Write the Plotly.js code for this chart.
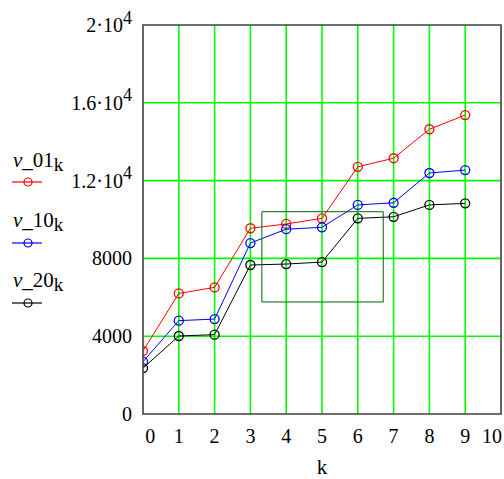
<!DOCTYPE html>
<html><head><meta charset="utf-8">
<script src="https://cdn.plot.ly/plotly-3.0.1.min.js"></script>
<style>body{margin:0;background:#fff}#c{width:504px;height:479px}</style>
</head><body><div id="c"></div>
<script>
const k = [0,1,2,3,4,5,6,7,8,9];
const v01 = [3240,6200,6510,9550,9770,10060,12710,13150,14640,15370];
const v10 = [2690,4800,4880,8790,9500,9600,10750,10860,12390,12540];
const v20 = [2360,4010,4080,7660,7710,7810,10060,10140,10750,10830];
const yTickVals = [0,4000,8000,12000,16000,20000];
const sup4 = '<sup><span style="font-size:18px">4</span></sup>';
const yTickText = ['0','4000','8000','1.2·10'+sup4,'1.6·10'+sup4,'2·10'+sup4];
const xTickVals = [0.2,1,2,3,4,5,6,7,8,9,9.75];
const xTickText = ['0','1','2','3','4','5','6','7','8','9','10'];
const xGrid = [1,2,3,4,5,6,7,8,9];
const names = ['ν_01','ν_10','ν_20'];
const colors = ['#ff0000','#0000ff','#000000'];
const series = [v01,v10,v20];
const font = 'Liberation Serif, Times New Roman, serif';

const traces = series.map((s,i)=>({
  x:k, y:s, type:'scatter', mode:'lines+markers', showlegend:false,
  line:{color:colors[i], width:1},
  marker:{symbol:'circle-open', size:9, color:colors[i], line:{width:1.3, color:colors[i]}}
}));

const shapes = [];
xGrid.forEach(g=>shapes.push({type:'line', xref:'x', yref:'paper', x0:g, x1:g, y0:0, y1:1, line:{color:'#00ff00', width:1.6}, layer:'below'}));
[4000,8000,12000,16000].forEach(g=>shapes.push({type:'line', xref:'paper', yref:'y', x0:0, x1:1, y0:g, y1:g, line:{color:'#00ff00', width:1.6}, layer:'below'}));
shapes.push({type:'rect', xref:'x', yref:'y', x0:3.32, x1:6.71, y0:5760, y1:10400, line:{color:'#006400', width:1}});
shapes.push({type:'rect', xref:'paper', yref:'paper', x0:0, x1:1, y0:0, y1:1, line:{color:'#404040', width:1.6}});

const legY = [182,243,303];
const legTextY = [161,221,281];
const annotations = [];
legY.forEach((ly,i)=>{
  const py = 1 - (ly-25)/389;
  shapes.push({type:'line', xref:'paper', yref:'paper', x0:(12-143)/358, x1:(42-143)/358, y0:py, y1:py, line:{color:colors[i], width:1.2}});
  shapes.push({type:'circle', xref:'paper', yref:'paper', x0:(24-143)/358, x1:(32-143)/358, y0:py-4/389, y1:py+4/389, line:{color:colors[i], width:1.2}});
  annotations.push({xref:'paper', yref:'paper', x:(11-143)/358, y:1-(legTextY[i]-25)/389, xanchor:'left', yanchor:'middle', showarrow:false,
    text:'<i>'+names[i].slice(0,1)+'</i>'+names[i].slice(1)+'<sub><span style="font-size:19px">k</span></sub>', font:{family:font, size:21, color:'#000'}});
});

const layout = {
  width:504, height:479,
  margin:{l:143, r:3, t:25, b:65},
  paper_bgcolor:'#fff', plot_bgcolor:'#fff',
  xaxis:{range:[0,10], tickvals:xTickVals, ticktext:xTickText, showgrid:false, zeroline:false, showline:false, ticks:'',
    ticklabelstandoff:8, tickfont:{family:font, size:20, color:'#000'},
    title:{text:'k', font:{family:font, size:21, color:'#000'}, standoff:14}},
  yaxis:{range:[0,20000], tickvals:yTickVals, ticktext:yTickText, showgrid:false, zeroline:false, showline:false, ticks:'',
    ticklabelstandoff:10, tickfont:{family:font, size:20, color:'#000'}},
  shapes:shapes, annotations:annotations, font:{family:font}
};
Plotly.newPlot('c', traces, layout, {displayModeBar:false, staticPlot:true});
</script></body></html>
